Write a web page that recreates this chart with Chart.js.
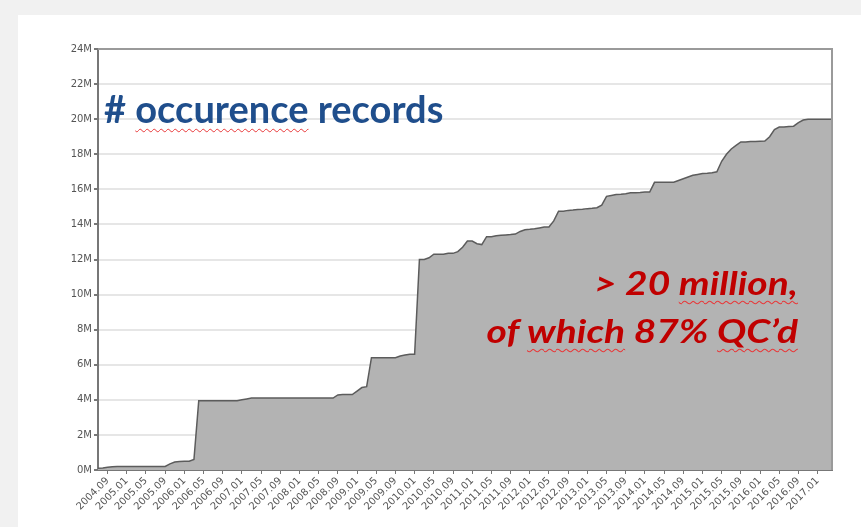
<!DOCTYPE html>
<html>
<head>
<meta charset="utf-8">
<script src="https://cdn.jsdelivr.net/npm/chart.js@4.4.0/dist/chart.umd.min.js"></script>
<style>
  html, body { margin: 0; padding: 0; background: #f1f1f1; width: 861px; height: 527px; overflow: hidden; }
  #card { position: absolute; left: 18px; top: 15px; right: 0; bottom: 0; background: #fff; }
  #chart { position: absolute; left: 0; top: 0; }
  .note { position: absolute; white-space: nowrap; font-family: Lato, "Open Sans", sans-serif; font-weight: 700; }
  #title { left: 104px; top: 89px; font-size: 38px; line-height: 38px; color: #1f4e8c; }
  #claim { right: 63px; top: 258px; font-size: 33px; line-height: 48px; color: #c00000; font-style: italic; text-align: right;
           transform: scaleX(1.18); transform-origin: right top; }
  .typo { text-decoration: underline wavy #e8393a; text-decoration-thickness: 1px; text-underline-offset: 5px; text-decoration-skip-ink: none; }
</style>
</head>
<body>
<div id="card"></div>
<canvas id="chart" width="861" height="527"></canvas>
<div id="title" class="note"># <span class="typo">occurence</span> records</div>
<div id="claim" class="note">&gt; 20 <span class="typo">million,</span><br>of <span class="typo">which</span> 87% <span class="typo">QC’d</span></div>
<script>
// monthly series, first month 2004.07
const startYear = 2004;
const startMonth = 7;

// cumulative occurrence records, millions (one value per month)
const records = [
    0.1, 0.12, 0.15, 0.18, 0.2, 0.2,                                        // 2004.07-12
    0.2, 0.2, 0.2, 0.2, 0.2, 0.2, 0.2, 0.2, 0.2, 0.35, 0.45, 0.48,          // 2005
    0.5, 0.5, 0.6, 3.95, 3.95, 3.95, 3.95, 3.95, 3.95, 3.95, 3.95, 3.95,    // 2006
    4.0, 4.05, 4.1, 4.1, 4.1, 4.1, 4.1, 4.1, 4.1, 4.1, 4.1, 4.1,            // 2007
    4.1, 4.1, 4.1, 4.1, 4.1, 4.1, 4.1, 4.1, 4.28, 4.3, 4.3, 4.3,            // 2008
    4.5, 4.7, 4.75, 6.4, 6.4, 6.4, 6.4, 6.4, 6.4, 6.5, 6.55, 6.6,           // 2009
    6.6, 12.0, 12.0, 12.1, 12.3, 12.3, 12.3, 12.35, 12.35, 12.45, 12.7, 13.05,      // 2010
    13.05, 12.9, 12.85, 13.3, 13.3, 13.35, 13.38, 13.4, 13.42, 13.45, 13.6, 13.7,   // 2011
    13.72, 13.75, 13.8, 13.85, 13.85, 14.2, 14.75, 14.75, 14.8, 14.82, 14.85, 14.87, // 2012
    14.9, 14.92, 14.95, 15.1, 15.6, 15.65, 15.7, 15.72, 15.75, 15.8, 15.8, 15.82,   // 2013
    15.85, 15.85, 16.4, 16.4, 16.4, 16.4, 16.4, 16.5, 16.6, 16.7, 16.8, 16.85,      // 2014
    16.9, 16.92, 16.95, 17.0, 17.6, 18.0, 18.3, 18.5, 18.7, 18.7, 18.72, 18.73,     // 2015
    18.74, 18.75, 19.0, 19.4, 19.55, 19.55, 19.58, 19.6, 19.8, 19.95, 20.0, 20.0,   // 2016
    20.0, 20.0, 20.0, 20.0                                                  // 2017.01-04
];

// labels printed under the x axis (every 4th month)
const xTickLabels = [
    '2004.09',
    '2005.01', '2005.05', '2005.09', '2006.01', '2006.05', '2006.09',
    '2007.01', '2007.05', '2007.09', '2008.01', '2008.05', '2008.09',
    '2009.01', '2009.05', '2009.09', '2010.01', '2010.05', '2010.09',
    '2011.01', '2011.05', '2011.09', '2012.01', '2012.05', '2012.09',
    '2013.01', '2013.05', '2013.09', '2014.01', '2014.05', '2014.09',
    '2015.01', '2015.05', '2015.09', '2016.01', '2016.05', '2016.09',
    '2017.01'
];

const yMax = 24;
const yStep = 2;

// month categories
const months = records.map((_, i) => {
    const m = startMonth - 1 + i;
    const y = startYear + Math.floor(m / 12);
    return y + '.' + String(m % 12 + 1).padStart(2, '0');
});

const axisFont = { family: 'DejaVu Sans', size: 10 };

// top and right edge of the plot box
const framePlugin = {
    id: 'frame',
    afterDatasetsDraw(chart) {
        const { ctx, chartArea: a } = chart;
        ctx.save();
        ctx.strokeStyle = '#9a9a9a';
        ctx.lineWidth = 2;
        ctx.beginPath();
        ctx.moveTo(a.left, a.top);
        ctx.lineTo(a.right, a.top);
        ctx.lineTo(a.right, a.bottom);
        ctx.stroke();
        ctx.restore();
    }
};

new Chart(document.getElementById('chart'), {
    type: 'line',
    data: {
        labels: months,
        datasets: [{
            data: records,
            borderColor: '#5c5c5c',
            borderWidth: 1.5,
            backgroundColor: '#b3b3b3',
            fill: 'origin',
            pointRadius: 0,
            tension: 0
        }]
    },
    options: {
        responsive: false,
        animation: false,
        layout: { padding: { top: 49, right: 29, left: 0, bottom: 0 } },
        plugins: {
            legend: { display: false },
            tooltip: { enabled: false }
        },
        scales: {
            x: {
                ticks: {
                    autoSkip: false,
                    maxRotation: 45,
                    minRotation: 45,
                    padding: 1,
                    font: axisFont,
                    color: '#555',
                    callback(v) {
                        const l = this.getLabelForValue(v);
                        return xTickLabels.includes(l) ? l : '';
                    }
                },
                grid: {
                    drawOnChartArea: false,
                    tickLength: 4,
                    color: (c) => xTickLabels.includes(months[c.index]) ? '#777' : 'rgba(0,0,0,0)'
                },
                border: { color: '#777', width: 2 },
                afterFit(s) { s.height = 57; }
            },
            y: {
                min: 0,
                max: yMax,
                ticks: {
                    stepSize: yStep,
                    padding: 2,
                    font: axisFont,
                    color: '#555',
                    callback: (v) => v + 'M'
                },
                grid: { color: '#e6e6e6', lineWidth: 2, tickLength: 4, tickColor: '#777' },
                border: { color: '#777', width: 2 },
                afterFit(s) { s.width = 98; }
            }
        }
    },
    plugins: [framePlugin]
});
</script>
</body>
</html>
